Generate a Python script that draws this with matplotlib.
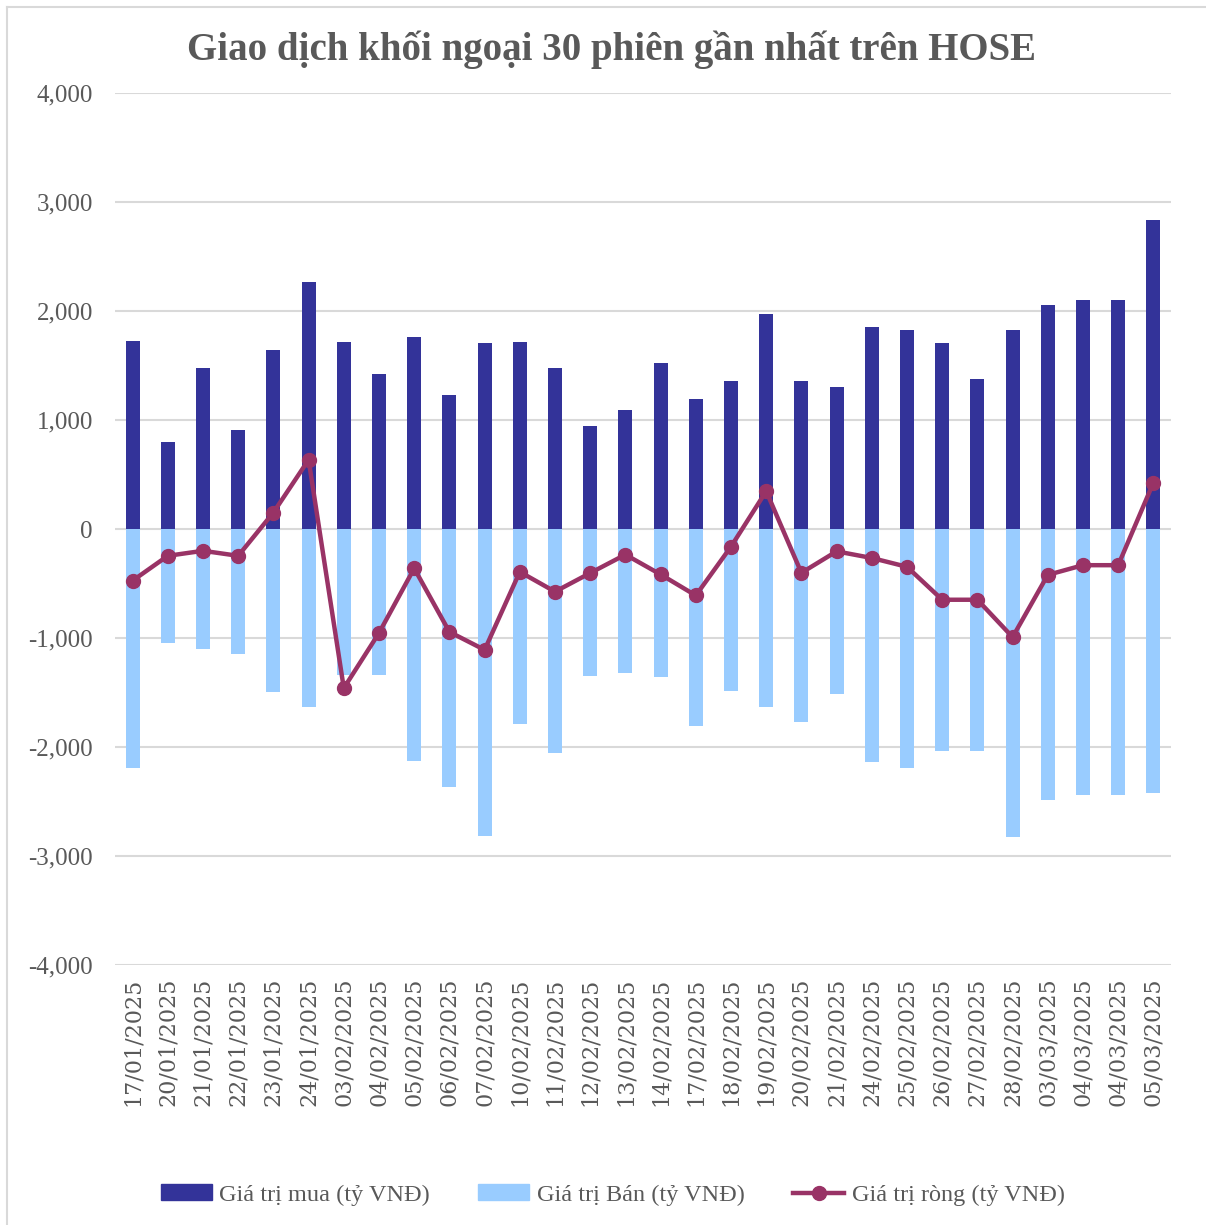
import matplotlib
matplotlib.use("Agg")
import matplotlib.pyplot as plt
from matplotlib.lines import Line2D
import numpy as np

dates = ["17/01/2025", "20/01/2025", "21/01/2025", "22/01/2025", "23/01/2025",
         "24/01/2025", "03/02/2025", "04/02/2025", "05/02/2025", "06/02/2025",
         "07/02/2025", "10/02/2025", "11/02/2025", "12/02/2025", "13/02/2025",
         "14/02/2025", "17/02/2025", "18/02/2025", "19/02/2025", "20/02/2025",
         "21/02/2025", "24/02/2025", "25/02/2025", "26/02/2025", "27/02/2025",
         "28/02/2025", "03/03/2025", "04/03/2025", "04/03/2025", "05/03/2025"]

buy = [1723, 796, 1481, 905, 1639, 2267, 1719, 1421, 1765, 1225,
       1709, 1716, 1477, 947, 1095, 1521, 1189, 1355, 1973, 1355,
       1305, 1857, 1830, 1707, 1375, 1830, 2058, 2097, 2097, 2838]

sell = [-2193, -1042, -1102, -1147, -1491, -1632, -1340, -1340, -2126, -2368,
        -2814, -1786, -2056, -1347, -1323, -1359, -1803, -1483, -1633, -1772,
        -1514, -2139, -2189, -2035, -2035, -2830, -2483, -2436, -2436, -2421]

net = [-474, -246, -200, -246, 151, 635, -1460, -954, -361, -944,
       -1109, -393, -575, -404, -235, -417, -610, -162, 347, -402,
       -205, -266, -347, -649, -649, -992, -421, -332, -332, 425]

yticks = [4000, 3000, 2000, 1000, 0, -1000, -2000, -3000, -4000]

title = "Giao dịch khối ngoại 30 phiên gần nhất trên HOSE"
lbl_buy = "Giá trị mua (tỷ VNĐ)"
lbl_sell = "Giá trị Bán (tỷ VNĐ)"
lbl_net = "Giá trị ròng (tỷ VNĐ)"

C_BUY = "#333399"
C_SELL = "#99CCFF"
C_NET = "#993366"
C_TXT = "#595959"
C_GRID = "#D9D9D9"

plt.rcParams['font.family'] = ['Liberation Serif', 'DejaVu Serif']

fig = plt.figure(figsize=(12.06, 12.25), dpi=100)
ax = fig.add_axes([115/1206, 1-965/1225, (1171-115)/1206, (965-93)/1225])

x = np.arange(len(dates))
ax.bar(x, buy, width=0.4, color=C_BUY, zorder=2)
ax.bar(x, sell, width=0.4, color=C_SELL, zorder=2)
ax.plot(x, net, color=C_NET, lw=3.2, marker='o', markersize=10, zorder=3)

ax.set_xlim(-0.5, len(dates) - 0.5)
ax.set_ylim(-4000, 4000)
ax.set_yticks(yticks)
ax.set_yticklabels([f"{v:,}" for v in yticks])
ax.yaxis.grid(True, color=C_GRID, lw=1.5, zorder=0)
ax.set_axisbelow(True)
for s in ax.spines.values():
    s.set_visible(False)
ax.tick_params(axis='y', length=0, pad=16, labelsize=18, labelcolor=C_TXT)
ax.set_xticks(x)
ax.set_xticklabels(dates, rotation=90, family=['DejaVu Serif'])
ax.tick_params(axis='x', length=0, pad=9, labelsize=16, labelcolor=C_TXT)

fig.text(0.507, 1-50/1225, title, ha='center', va='center', fontsize=28,
         fontweight='bold', color=C_TXT)

handles = [
    plt.Rectangle((0, 0), 1, 1, color=C_BUY),
    plt.Rectangle((0, 0), 1, 1, color=C_SELL),
    Line2D([0], [0], color=C_NET, lw=3.2, marker='o', markersize=10),
]
fig.legend(handles, [lbl_buy, lbl_sell, lbl_net], loc='center',
           bbox_to_anchor=(0.508, 1-1195/1225), ncol=3, frameon=False,
           fontsize=17.5, labelcolor=C_TXT, handlelength=2.1, handleheight=0.6,
           columnspacing=2.0, handletextpad=0.3)

# thin frame on left and top edges
fig.add_artist(Line2D([7/1206, 7/1206], [0, 1-7/1225], color=C_GRID, lw=1.5))
fig.add_artist(Line2D([7/1206, 1], [1-7/1225, 1-7/1225], color=C_GRID, lw=1.5))

fig.savefig("out.png", dpi=100)
